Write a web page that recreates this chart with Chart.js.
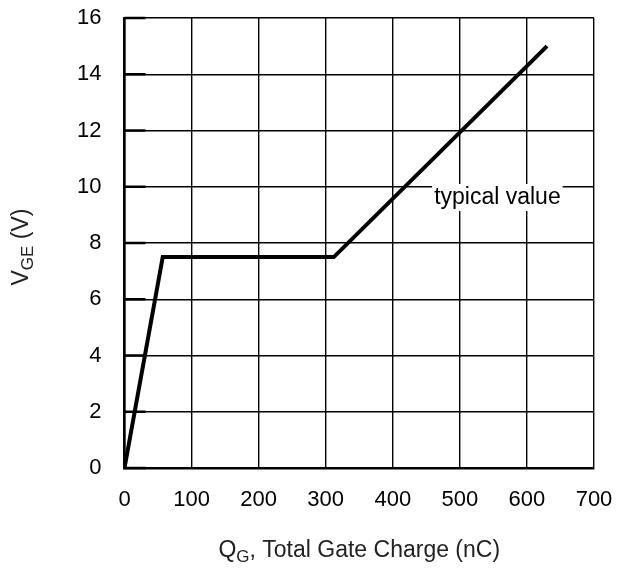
<!DOCTYPE html>
<html>
<head>
<meta charset="utf-8">
<script src="https://cdn.jsdelivr.net/npm/chart.js@4/dist/chart.umd.min.js"></script>
<style>
  html, body { margin: 0; padding: 0; background: #fff; }
  #wrap { width: 626px; height: 570px; position: relative; }
</style>
</head>
<body>
<div id="wrap"><canvas id="c"></canvas></div>
<script>
// ── Data ────────────────────────────────────────────────────────

const QG_NC   = [0, 57, 312, 630];
const VGE_V   = [0, 7.5, 7.5, 15];
const X_TICKS = [0, 100, 200, 300, 400, 500, 600, 700];
const Y_TICKS = [0, 2, 4, 6, 8, 10, 12, 14, 16];
const NOTE    = { text: "typical value", q: 556, v: 9.6 };

const FONT = "'Liberation Sans', Arial, sans-serif";

// ── Extra drawing: inner ticks, note, axis titles with subscripts ──

const extras = {
  id: "extras",
  afterDatasetsDraw(chart) {
    const { ctx, scales: { x, y }, chartArea: a } = chart;
    ctx.save();

    // short inward ticks on the left axis
    ctx.strokeStyle = "#000";
    ctx.lineWidth = 2.5;
    Y_TICKS.forEach(v => {
      const py = y.getPixelForValue(v);
      ctx.beginPath();
      ctx.moveTo(a.left, py);
      ctx.lineTo(a.left + 21, py);
      ctx.stroke();
    });

    // "typical value" with white box over the grid
    ctx.font = "23px " + FONT;
    ctx.textAlign = "center";
    ctx.textBaseline = "middle";
    const nx = x.getPixelForValue(NOTE.q);
    const ny = y.getPixelForValue(NOTE.v);
    const w = ctx.measureText(NOTE.text).width;
    ctx.fillStyle = "#fff";
    ctx.fillRect(nx - w / 2 - 2, ny - 14, w + 4, 27);
    ctx.fillStyle = "#000";
    ctx.fillText(NOTE.text, nx, ny);

    // axis titles, drawn in runs so the subscripts can drop
    const runWidth = (items) => items.reduce((s, p) => {
      ctx.font = p.size + "px " + FONT;
      return s + ctx.measureText(p.t).width;
    }, 0);
    const drawRun = (items, cx, cy) => {
      let px = cx - runWidth(items) / 2;
      ctx.textAlign = "left";
      items.forEach(p => {
        ctx.font = p.size + "px " + FONT;
        ctx.fillText(p.t, px, cy + (p.dy || 0));
        px += ctx.measureText(p.t).width;
      });
    };
    ctx.fillStyle = "#222";
    drawRun([
      { t: "Q", size: 23 },
      { t: "G", size: 17, dy: 6 },
      { t: ", Total Gate Charge (nC)", size: 23 },
    ], (a.left + a.right) / 2, 551);

    ctx.translate(22, (a.top + a.bottom) / 2 + 4);
    ctx.rotate(-Math.PI / 2);
    drawRun([
      { t: "V", size: 23 },
      { t: "GE", size: 17, dy: 6 },
      { t: " (V)", size: 23 },
    ], 0, 0);

    ctx.restore();
  },
};

new Chart(document.getElementById("c"), {
  type: "scatter",
  data: {
    datasets: [{
      data: QG_NC.map((q, i) => ({ x: q, y: VGE_V[i] })),
      showLine: true,
      borderColor: "#000",
      borderWidth: 4,
      pointRadius: 0,
      tension: 0,
    }],
  },
  options: {
    responsive: true,
    maintainAspectRatio: false,
    animation: false,
    layout: { padding: { top: 18, right: 32, left: 0, bottom: 0 } },
    plugins: { legend: { display: false }, tooltip: { enabled: false } },
    scales: {
      x: {
        type: "linear",
        min: 0,
        max: 700,
        afterBuildTicks: s => { s.ticks = X_TICKS.map(v => ({ value: v })); },
        afterFit: s => { s.height = 102; s.paddingLeft = 0; s.paddingRight = 0; },
        grid: { color: "#000", lineWidth: 1.4, drawTicks: false },
        border: { color: "#000", width: 2.5 },
        ticks: { color: "#000", padding: 19, font: { family: FONT, size: 22 } },
      },
      y: {
        min: 0,
        max: 16,
        afterBuildTicks: s => { s.ticks = Y_TICKS.map(v => ({ value: v })); },
        afterFit: s => { s.width = 124.5; s.paddingTop = 0; s.paddingBottom = 0; },
        grid: { color: "#000", lineWidth: 1.4, drawTicks: false },
        border: { color: "#000", width: 2.5 },
        ticks: { color: "#000", padding: 23, font: { family: FONT, size: 22 } },
      },
    },
  },
  plugins: [extras],
});
</script>
</body>
</html>
